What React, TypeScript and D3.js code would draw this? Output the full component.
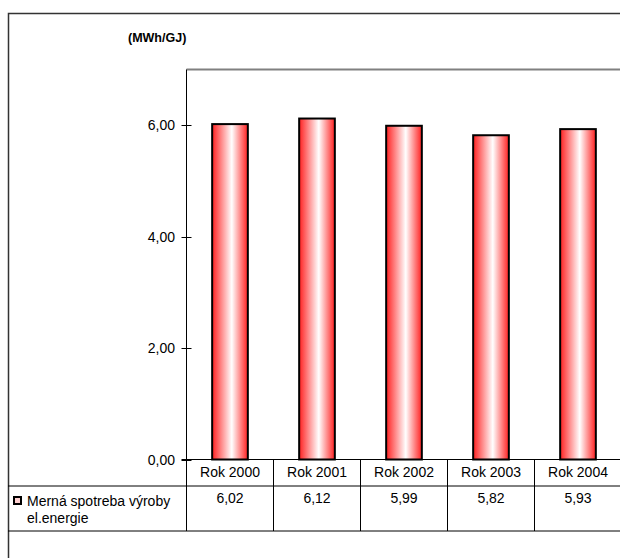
import React from "react";
import * as d3 from "d3";

const categories = ["Rok 2000", "Rok 2001", "Rok 2002", "Rok 2003", "Rok 2004"];
const values = [6.02, 6.12, 5.99, 5.82, 5.93];
const valueLabels = ["6,02", "6,12", "5,99", "5,82", "5,93"];
const yTicks = [0, 2, 4, 6];
const seriesName = ["Merná spotreba výroby", "el.energie"];
const unitLabel = "(MWh/GJ)";

export default function App() {
  const W = 620, H = 558;
  const left = 186.5, right = 621.5, top = 69.5, bottom = 459.5;
  const x = d3.scaleBand<string>().domain(categories).range([left, right]).paddingInner(0).paddingOuter(0);
  const y = d3.scaleLinear().domain([0, 7]).range([bottom, top]);
  const bw = x.bandwidth() * 0.41;
  const font = "Arial, 'Liberation Sans', sans-serif";
  const rowTop = bottom, rowMid = 486, rowBot = 531;
  return (
    <svg width={W} height={H} style={{ position: "absolute", left: 0, top: 0 }}>
      <defs>
        <linearGradient id="barGrad" x1="0" x2="1" y1="0" y2="0">
          <stop offset="0%" stopColor="#ff2020" />
          <stop offset="55%" stopColor="#ffffff" />
          <stop offset="100%" stopColor="#ff2020" />
        </linearGradient>
      </defs>
      <rect x={0} y={0} width={W} height={H} fill="#fff" />
      {/* outer border */}
      <path d={`M8.5,${H} V13.5 H${W}`} fill="none" stroke="#333" strokeWidth={1.5} />
      {/* title */}
      <text x={128} y={42} fontFamily={font} fontSize={12.5} fontWeight="bold" fill="#000">{unitLabel}</text>
      {/* plot top gray line */}
      <line x1={left} x2={W} y1={top} y2={top} stroke="#808080" strokeWidth={2} />
      {/* bars */}
      {categories.map((c, i) => (
        <rect key={c} x={(x(c) as number) + (x.bandwidth() - bw) / 2} y={y(values[i])} width={bw} height={bottom - y(values[i])}
          fill="url(#barGrad)" stroke="#000" strokeWidth={2} />
      ))}
      {/* axes */}
      <line x1={left} x2={left} y1={top} y2={rowBot} stroke="#000" strokeWidth={1} />
      <line x1={left - 5} x2={W} y1={bottom} y2={bottom} stroke="#000" strokeWidth={1} />
      {yTicks.map(t => (
        <g key={t}>
          <line x1={left - 5} x2={left + 5} y1={Math.round(y(t)) + 0.5} y2={Math.round(y(t)) + 0.5} stroke="#000" />
          <text x={175} y={y(t) + 5} textAnchor="end" fontFamily={font} fontSize={14} fill="#000">{d3.format(".2f")(t).replace(".", ",")}</text>
        </g>
      ))}
      {/* data table */}
      <line x1={8} x2={W} y1={rowMid} y2={rowMid} stroke="#000" strokeWidth={1} />
      <line x1={8} x2={W} y1={rowBot} y2={rowBot} stroke="#000" strokeWidth={1} />
      {categories.map((c, i) => (
        <g key={c}>
          <line x1={(x(c) as number) + x.bandwidth()} x2={(x(c) as number) + x.bandwidth()} y1={rowTop} y2={rowBot} stroke="#000" />
          <text x={(x(c) as number) + x.bandwidth() / 2} y={477} textAnchor="middle" fontFamily={font} fontSize={14} fill="#000">{c}</text>
          <text x={(x(c) as number) + x.bandwidth() / 2} y={503} textAnchor="middle" fontFamily={font} fontSize={14} fill="#000">{valueLabels[i]}</text>
        </g>
      ))}
      {/* legend key */}
      <rect x={14} y={497} width={7} height={7} fill="#ffd0d0" stroke="#000" strokeWidth={2} />
      <text x={27} y={506} fontFamily={font} fontSize={14} fill="#000">{seriesName[0]}</text>
      <text x={27} y={523} fontFamily={font} fontSize={14} fill="#000">{seriesName[1]}</text>
    </svg>
  );
}
